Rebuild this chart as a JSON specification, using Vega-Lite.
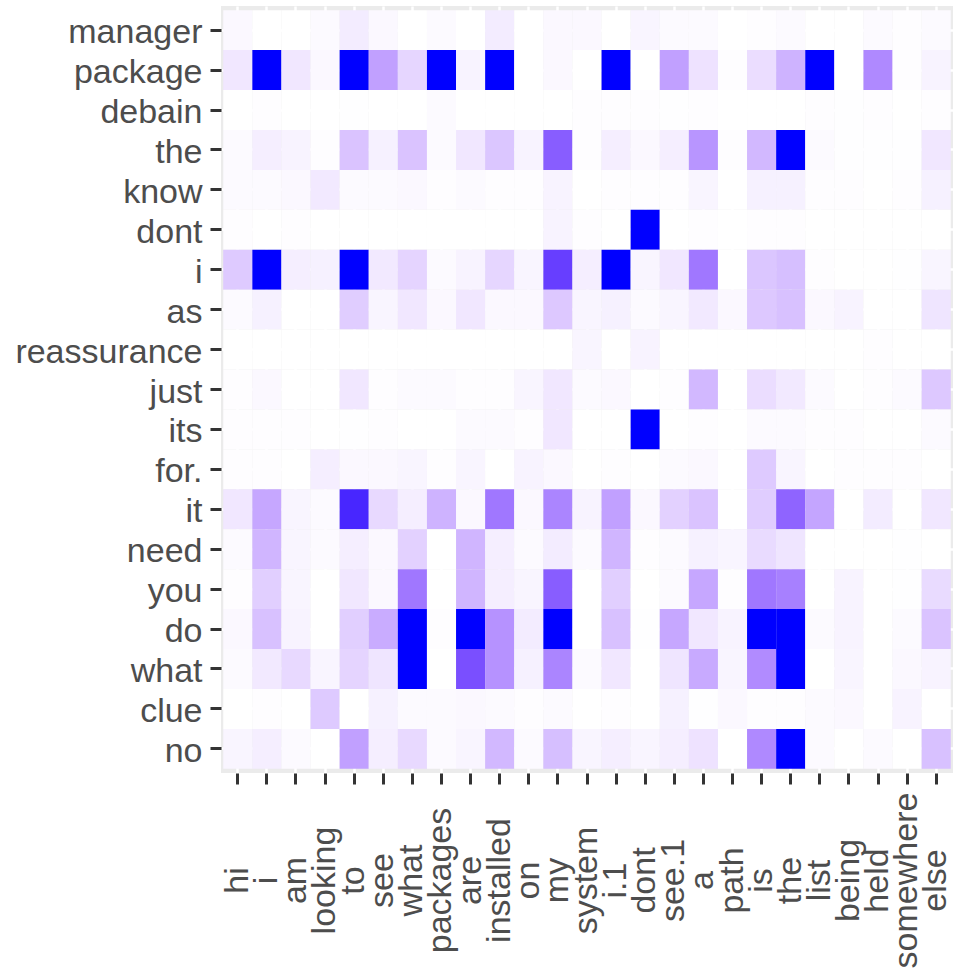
{
  "$schema": "https://vega.github.io/schema/vega-lite/v6.json",
  "autosize": {"type": "none"},
  "padding": {"left": 221, "top": 6, "right": 0, "bottom": 199},
  "width": 732,
  "height": 767,
  "background": "#FFFFFF",
  "config": {
    "view": {"fill": "#EBEBEB", "stroke": null},
    "axis": {
      "title": null,
      "domain": false,
      "grid": true,
      "gridColor": "#FFFFFF",
      "gridWidth": 2.5,
      "bandPosition": 0.5,
      "ticks": true,
      "tickColor": "#333333",
      "tickSize": 11,
      "tickWidth": 3,
      "labelFont": "Liberation Sans",
      "labelFontSize": 34,
      "labelColor": "#4D4D4D",
      "labelLimit": 0,
      "labelOverlap": false,
      "labelBound": false,
      "labelFlush": false,
      "zindex": 0
    }
  },
  "data": {
    "values": [
      {"src":"hi","tgt":"manager","weight":0.03},{"src":"i","tgt":"manager","weight":0},{"src":"am","tgt":"manager","weight":0},{"src":"looking","tgt":"manager","weight":0.02},{"src":"to","tgt":"manager","weight":0.08},{"src":"see","tgt":"manager","weight":0.03},{"src":"what","tgt":"manager","weight":0},{"src":"packages","tgt":"manager","weight":0.02},{"src":"are","tgt":"manager","weight":0},{"src":"installed","tgt":"manager","weight":0.08},{"src":"on","tgt":"manager","weight":0},{"src":"my","tgt":"manager","weight":0.03},{"src":"system","tgt":"manager","weight":0.03},{"src":"i.1","tgt":"manager","weight":0},{"src":"dont","tgt":"manager","weight":0.04},{"src":"see.1","tgt":"manager","weight":0.02},{"src":"a","tgt":"manager","weight":0.02},{"src":"path","tgt":"manager","weight":0},{"src":"is","tgt":"manager","weight":0.01},{"src":"the","tgt":"manager","weight":0.02},{"src":"list","tgt":"manager","weight":0},{"src":"being","tgt":"manager","weight":0},{"src":"held","tgt":"manager","weight":0.02},{"src":"somewhere","tgt":"manager","weight":0.01},{"src":"else","tgt":"manager","weight":0.02},
      {"src":"hi","tgt":"package","weight":0.1},{"src":"i","tgt":"package","weight":1},{"src":"am","tgt":"package","weight":0.1},{"src":"looking","tgt":"package","weight":0.03},{"src":"to","tgt":"package","weight":1},{"src":"see","tgt":"package","weight":0.4},{"src":"what","tgt":"package","weight":0.17},{"src":"packages","tgt":"package","weight":1},{"src":"are","tgt":"package","weight":0.05},{"src":"installed","tgt":"package","weight":1},{"src":"on","tgt":"package","weight":0},{"src":"my","tgt":"package","weight":0.03},{"src":"system","tgt":"package","weight":0},{"src":"i.1","tgt":"package","weight":1},{"src":"dont","tgt":"package","weight":0},{"src":"see.1","tgt":"package","weight":0.4},{"src":"a","tgt":"package","weight":0.12},{"src":"path","tgt":"package","weight":0.01},{"src":"is","tgt":"package","weight":0.14},{"src":"the","tgt":"package","weight":0.32},{"src":"list","tgt":"package","weight":1},{"src":"being","tgt":"package","weight":0},{"src":"held","tgt":"package","weight":0.5},{"src":"somewhere","tgt":"package","weight":0.01},{"src":"else","tgt":"package","weight":0.05},
      {"src":"hi","tgt":"debain","weight":0},{"src":"i","tgt":"debain","weight":0.01},{"src":"am","tgt":"debain","weight":0},{"src":"looking","tgt":"debain","weight":0},{"src":"to","tgt":"debain","weight":0.005},{"src":"see","tgt":"debain","weight":0},{"src":"what","tgt":"debain","weight":0},{"src":"packages","tgt":"debain","weight":0.02},{"src":"are","tgt":"debain","weight":0},{"src":"installed","tgt":"debain","weight":0},{"src":"on","tgt":"debain","weight":0},{"src":"my","tgt":"debain","weight":0},{"src":"system","tgt":"debain","weight":0.01},{"src":"i.1","tgt":"debain","weight":0.01},{"src":"dont","tgt":"debain","weight":0.01},{"src":"see.1","tgt":"debain","weight":0.005},{"src":"a","tgt":"debain","weight":0.01},{"src":"path","tgt":"debain","weight":0},{"src":"is","tgt":"debain","weight":0},{"src":"the","tgt":"debain","weight":0},{"src":"list","tgt":"debain","weight":0.01},{"src":"being","tgt":"debain","weight":0.005},{"src":"held","tgt":"debain","weight":0.01},{"src":"somewhere","tgt":"debain","weight":0},{"src":"else","tgt":"debain","weight":0.01},
      {"src":"hi","tgt":"the","weight":0.02},{"src":"i","tgt":"the","weight":0.07},{"src":"am","tgt":"the","weight":0.05},{"src":"looking","tgt":"the","weight":0.01},{"src":"to","tgt":"the","weight":0.25},{"src":"see","tgt":"the","weight":0.06},{"src":"what","tgt":"the","weight":0.25},{"src":"packages","tgt":"the","weight":0.02},{"src":"are","tgt":"the","weight":0.1},{"src":"installed","tgt":"the","weight":0.24},{"src":"on","tgt":"the","weight":0.05},{"src":"my","tgt":"the","weight":0.69},{"src":"system","tgt":"the","weight":0.01},{"src":"i.1","tgt":"the","weight":0.07},{"src":"dont","tgt":"the","weight":0.03},{"src":"see.1","tgt":"the","weight":0.07},{"src":"a","tgt":"the","weight":0.45},{"src":"path","tgt":"the","weight":0.01},{"src":"is","tgt":"the","weight":0.3},{"src":"the","tgt":"the","weight":1},{"src":"list","tgt":"the","weight":0.02},{"src":"being","tgt":"the","weight":0.005},{"src":"held","tgt":"the","weight":0.005},{"src":"somewhere","tgt":"the","weight":0.005},{"src":"else","tgt":"the","weight":0.1},
      {"src":"hi","tgt":"know","weight":0.02},{"src":"i","tgt":"know","weight":0.02},{"src":"am","tgt":"know","weight":0.03},{"src":"looking","tgt":"know","weight":0.09},{"src":"to","tgt":"know","weight":0.02},{"src":"see","tgt":"know","weight":0.02},{"src":"what","tgt":"know","weight":0.03},{"src":"packages","tgt":"know","weight":0.01},{"src":"are","tgt":"know","weight":0.02},{"src":"installed","tgt":"know","weight":0.01},{"src":"on","tgt":"know","weight":0.01},{"src":"my","tgt":"know","weight":0.05},{"src":"system","tgt":"know","weight":0},{"src":"i.1","tgt":"know","weight":0.01},{"src":"dont","tgt":"know","weight":0.01},{"src":"see.1","tgt":"know","weight":0.01},{"src":"a","tgt":"know","weight":0.04},{"src":"path","tgt":"know","weight":0},{"src":"is","tgt":"know","weight":0.06},{"src":"the","tgt":"know","weight":0.06},{"src":"list","tgt":"know","weight":0.01},{"src":"being","tgt":"know","weight":0.01},{"src":"held","tgt":"know","weight":0},{"src":"somewhere","tgt":"know","weight":0.01},{"src":"else","tgt":"know","weight":0.06},
      {"src":"hi","tgt":"dont","weight":0.01},{"src":"i","tgt":"dont","weight":0},{"src":"am","tgt":"dont","weight":0.01},{"src":"looking","tgt":"dont","weight":0},{"src":"to","tgt":"dont","weight":0},{"src":"see","tgt":"dont","weight":0},{"src":"what","tgt":"dont","weight":0},{"src":"packages","tgt":"dont","weight":0},{"src":"are","tgt":"dont","weight":0},{"src":"installed","tgt":"dont","weight":0},{"src":"on","tgt":"dont","weight":0},{"src":"my","tgt":"dont","weight":0.05},{"src":"system","tgt":"dont","weight":0.01},{"src":"i.1","tgt":"dont","weight":0},{"src":"dont","tgt":"dont","weight":1},{"src":"see.1","tgt":"dont","weight":0},{"src":"a","tgt":"dont","weight":0.01},{"src":"path","tgt":"dont","weight":0},{"src":"is","tgt":"dont","weight":0.01},{"src":"the","tgt":"dont","weight":0.01},{"src":"list","tgt":"dont","weight":0},{"src":"being","tgt":"dont","weight":0},{"src":"held","tgt":"dont","weight":0},{"src":"somewhere","tgt":"dont","weight":0},{"src":"else","tgt":"dont","weight":0},
      {"src":"hi","tgt":"i","weight":0.22},{"src":"i","tgt":"i","weight":1},{"src":"am","tgt":"i","weight":0.07},{"src":"looking","tgt":"i","weight":0.06},{"src":"to","tgt":"i","weight":1},{"src":"see","tgt":"i","weight":0.09},{"src":"what","tgt":"i","weight":0.18},{"src":"packages","tgt":"i","weight":0.02},{"src":"are","tgt":"i","weight":0.05},{"src":"installed","tgt":"i","weight":0.17},{"src":"on","tgt":"i","weight":0.04},{"src":"my","tgt":"i","weight":0.82},{"src":"system","tgt":"i","weight":0.07},{"src":"i.1","tgt":"i","weight":1},{"src":"dont","tgt":"i","weight":0.04},{"src":"see.1","tgt":"i","weight":0.1},{"src":"a","tgt":"i","weight":0.58},{"src":"path","tgt":"i","weight":0},{"src":"is","tgt":"i","weight":0.24},{"src":"the","tgt":"i","weight":0.27},{"src":"list","tgt":"i","weight":0.01},{"src":"being","tgt":"i","weight":0},{"src":"held","tgt":"i","weight":0},{"src":"somewhere","tgt":"i","weight":0.005},{"src":"else","tgt":"i","weight":0.04},
      {"src":"hi","tgt":"as","weight":0.02},{"src":"i","tgt":"as","weight":0.06},{"src":"am","tgt":"as","weight":0},{"src":"looking","tgt":"as","weight":0},{"src":"to","tgt":"as","weight":0.21},{"src":"see","tgt":"as","weight":0.04},{"src":"what","tgt":"as","weight":0.1},{"src":"packages","tgt":"as","weight":0.03},{"src":"are","tgt":"as","weight":0.1},{"src":"installed","tgt":"as","weight":0.03},{"src":"on","tgt":"as","weight":0.03},{"src":"my","tgt":"as","weight":0.23},{"src":"system","tgt":"as","weight":0.04},{"src":"i.1","tgt":"as","weight":0.06},{"src":"dont","tgt":"as","weight":0.02},{"src":"see.1","tgt":"as","weight":0.04},{"src":"a","tgt":"as","weight":0.09},{"src":"path","tgt":"as","weight":0.03},{"src":"is","tgt":"as","weight":0.23},{"src":"the","tgt":"as","weight":0.26},{"src":"list","tgt":"as","weight":0.03},{"src":"being","tgt":"as","weight":0.05},{"src":"held","tgt":"as","weight":0},{"src":"somewhere","tgt":"as","weight":0},{"src":"else","tgt":"as","weight":0.11},
      {"src":"hi","tgt":"reassurance","weight":0},{"src":"i","tgt":"reassurance","weight":0},{"src":"am","tgt":"reassurance","weight":0},{"src":"looking","tgt":"reassurance","weight":0},{"src":"to","tgt":"reassurance","weight":0},{"src":"see","tgt":"reassurance","weight":0},{"src":"what","tgt":"reassurance","weight":0},{"src":"packages","tgt":"reassurance","weight":0},{"src":"are","tgt":"reassurance","weight":0},{"src":"installed","tgt":"reassurance","weight":0},{"src":"on","tgt":"reassurance","weight":0},{"src":"my","tgt":"reassurance","weight":0},{"src":"system","tgt":"reassurance","weight":0.04},{"src":"i.1","tgt":"reassurance","weight":0},{"src":"dont","tgt":"reassurance","weight":0.05},{"src":"see.1","tgt":"reassurance","weight":0},{"src":"a","tgt":"reassurance","weight":0},{"src":"path","tgt":"reassurance","weight":0},{"src":"is","tgt":"reassurance","weight":0},{"src":"the","tgt":"reassurance","weight":0},{"src":"list","tgt":"reassurance","weight":0},{"src":"being","tgt":"reassurance","weight":0},{"src":"held","tgt":"reassurance","weight":0.01},{"src":"somewhere","tgt":"reassurance","weight":0},{"src":"else","tgt":"reassurance","weight":0},
      {"src":"hi","tgt":"just","weight":0.01},{"src":"i","tgt":"just","weight":0.03},{"src":"am","tgt":"just","weight":0},{"src":"looking","tgt":"just","weight":0},{"src":"to","tgt":"just","weight":0.1},{"src":"see","tgt":"just","weight":0.01},{"src":"what","tgt":"just","weight":0.02},{"src":"packages","tgt":"just","weight":0.02},{"src":"are","tgt":"just","weight":0.01},{"src":"installed","tgt":"just","weight":0.01},{"src":"on","tgt":"just","weight":0.04},{"src":"my","tgt":"just","weight":0.1},{"src":"system","tgt":"just","weight":0.02},{"src":"i.1","tgt":"just","weight":0.03},{"src":"dont","tgt":"just","weight":0},{"src":"see.1","tgt":"just","weight":0.01},{"src":"a","tgt":"just","weight":0.3},{"src":"path","tgt":"just","weight":0},{"src":"is","tgt":"just","weight":0.14},{"src":"the","tgt":"just","weight":0.09},{"src":"list","tgt":"just","weight":0.02},{"src":"being","tgt":"just","weight":0},{"src":"held","tgt":"just","weight":0.01},{"src":"somewhere","tgt":"just","weight":0.02},{"src":"else","tgt":"just","weight":0.23},
      {"src":"hi","tgt":"its","weight":0.01},{"src":"i","tgt":"its","weight":0.01},{"src":"am","tgt":"its","weight":0.01},{"src":"looking","tgt":"its","weight":0},{"src":"to","tgt":"its","weight":0.005},{"src":"see","tgt":"its","weight":0.01},{"src":"what","tgt":"its","weight":0},{"src":"packages","tgt":"its","weight":0},{"src":"are","tgt":"its","weight":0.02},{"src":"installed","tgt":"its","weight":0.02},{"src":"on","tgt":"its","weight":0.01},{"src":"my","tgt":"its","weight":0.1},{"src":"system","tgt":"its","weight":0},{"src":"i.1","tgt":"its","weight":0},{"src":"dont","tgt":"its","weight":1},{"src":"see.1","tgt":"its","weight":0},{"src":"a","tgt":"its","weight":0.01},{"src":"path","tgt":"its","weight":0},{"src":"is","tgt":"its","weight":0.02},{"src":"the","tgt":"its","weight":0.02},{"src":"list","tgt":"its","weight":0.01},{"src":"being","tgt":"its","weight":0.01},{"src":"held","tgt":"its","weight":0},{"src":"somewhere","tgt":"its","weight":0},{"src":"else","tgt":"its","weight":0.02},
      {"src":"hi","tgt":"for.","weight":0.01},{"src":"i","tgt":"for.","weight":0.01},{"src":"am","tgt":"for.","weight":0},{"src":"looking","tgt":"for.","weight":0.07},{"src":"to","tgt":"for.","weight":0.03},{"src":"see","tgt":"for.","weight":0.03},{"src":"what","tgt":"for.","weight":0.04},{"src":"packages","tgt":"for.","weight":0.01},{"src":"are","tgt":"for.","weight":0.04},{"src":"installed","tgt":"for.","weight":0},{"src":"on","tgt":"for.","weight":0.05},{"src":"my","tgt":"for.","weight":0.03},{"src":"system","tgt":"for.","weight":0},{"src":"i.1","tgt":"for.","weight":0.01},{"src":"dont","tgt":"for.","weight":0},{"src":"see.1","tgt":"for.","weight":0.02},{"src":"a","tgt":"for.","weight":0.03},{"src":"path","tgt":"for.","weight":0},{"src":"is","tgt":"for.","weight":0.22},{"src":"the","tgt":"for.","weight":0.04},{"src":"list","tgt":"for.","weight":0},{"src":"being","tgt":"for.","weight":0.01},{"src":"held","tgt":"for.","weight":0.01},{"src":"somewhere","tgt":"for.","weight":0.01},{"src":"else","tgt":"for.","weight":0},
      {"src":"hi","tgt":"it","weight":0.1},{"src":"i","tgt":"it","weight":0.37},{"src":"am","tgt":"it","weight":0.04},{"src":"looking","tgt":"it","weight":0.02},{"src":"to","tgt":"it","weight":0.91},{"src":"see","tgt":"it","weight":0.16},{"src":"what","tgt":"it","weight":0.07},{"src":"packages","tgt":"it","weight":0.32},{"src":"are","tgt":"it","weight":0.03},{"src":"installed","tgt":"it","weight":0.58},{"src":"on","tgt":"it","weight":0.03},{"src":"my","tgt":"it","weight":0.52},{"src":"system","tgt":"it","weight":0.05},{"src":"i.1","tgt":"it","weight":0.4},{"src":"dont","tgt":"it","weight":0.03},{"src":"see.1","tgt":"it","weight":0.19},{"src":"a","tgt":"it","weight":0.25},{"src":"path","tgt":"it","weight":0},{"src":"is","tgt":"it","weight":0.21},{"src":"the","tgt":"it","weight":0.66},{"src":"list","tgt":"it","weight":0.38},{"src":"being","tgt":"it","weight":0},{"src":"held","tgt":"it","weight":0.08},{"src":"somewhere","tgt":"it","weight":0},{"src":"else","tgt":"it","weight":0.1},
      {"src":"hi","tgt":"need","weight":0.02},{"src":"i","tgt":"need","weight":0.31},{"src":"am","tgt":"need","weight":0.04},{"src":"looking","tgt":"need","weight":0.02},{"src":"to","tgt":"need","weight":0.07},{"src":"see","tgt":"need","weight":0.03},{"src":"what","tgt":"need","weight":0.19},{"src":"packages","tgt":"need","weight":0},{"src":"are","tgt":"need","weight":0.31},{"src":"installed","tgt":"need","weight":0.07},{"src":"on","tgt":"need","weight":0.02},{"src":"my","tgt":"need","weight":0.08},{"src":"system","tgt":"need","weight":0.02},{"src":"i.1","tgt":"need","weight":0.31},{"src":"dont","tgt":"need","weight":0.01},{"src":"see.1","tgt":"need","weight":0.02},{"src":"a","tgt":"need","weight":0.06},{"src":"path","tgt":"need","weight":0.04},{"src":"is","tgt":"need","weight":0.15},{"src":"the","tgt":"need","weight":0.11},{"src":"list","tgt":"need","weight":0},{"src":"being","tgt":"need","weight":0},{"src":"held","tgt":"need","weight":0},{"src":"somewhere","tgt":"need","weight":0.005},{"src":"else","tgt":"need","weight":0},
      {"src":"hi","tgt":"you","weight":0.01},{"src":"i","tgt":"you","weight":0.2},{"src":"am","tgt":"you","weight":0.04},{"src":"looking","tgt":"you","weight":0},{"src":"to","tgt":"you","weight":0.1},{"src":"see","tgt":"you","weight":0.03},{"src":"what","tgt":"you","weight":0.58},{"src":"packages","tgt":"you","weight":0},{"src":"are","tgt":"you","weight":0.31},{"src":"installed","tgt":"you","weight":0.07},{"src":"on","tgt":"you","weight":0.04},{"src":"my","tgt":"you","weight":0.69},{"src":"system","tgt":"you","weight":0},{"src":"i.1","tgt":"you","weight":0.2},{"src":"dont","tgt":"you","weight":0},{"src":"see.1","tgt":"you","weight":0.02},{"src":"a","tgt":"you","weight":0.37},{"src":"path","tgt":"you","weight":0.01},{"src":"is","tgt":"you","weight":0.58},{"src":"the","tgt":"you","weight":0.54},{"src":"list","tgt":"you","weight":0},{"src":"being","tgt":"you","weight":0.05},{"src":"held","tgt":"you","weight":0},{"src":"somewhere","tgt":"you","weight":0.005},{"src":"else","tgt":"you","weight":0.15},
      {"src":"hi","tgt":"do","weight":0.03},{"src":"i","tgt":"do","weight":0.26},{"src":"am","tgt":"do","weight":0.05},{"src":"looking","tgt":"do","weight":0},{"src":"to","tgt":"do","weight":0.2},{"src":"see","tgt":"do","weight":0.35},{"src":"what","tgt":"do","weight":1},{"src":"packages","tgt":"do","weight":0.01},{"src":"are","tgt":"do","weight":1},{"src":"installed","tgt":"do","weight":0.46},{"src":"on","tgt":"do","weight":0.08},{"src":"my","tgt":"do","weight":1},{"src":"system","tgt":"do","weight":0},{"src":"i.1","tgt":"do","weight":0.26},{"src":"dont","tgt":"do","weight":0.005},{"src":"see.1","tgt":"do","weight":0.37},{"src":"a","tgt":"do","weight":0.1},{"src":"path","tgt":"do","weight":0.05},{"src":"is","tgt":"do","weight":1},{"src":"the","tgt":"do","weight":1},{"src":"list","tgt":"do","weight":0.02},{"src":"being","tgt":"do","weight":0.05},{"src":"held","tgt":"do","weight":0},{"src":"somewhere","tgt":"do","weight":0.02},{"src":"else","tgt":"do","weight":0.25},
      {"src":"hi","tgt":"what","weight":0.02},{"src":"i","tgt":"what","weight":0.09},{"src":"am","tgt":"what","weight":0.16},{"src":"looking","tgt":"what","weight":0.04},{"src":"to","tgt":"what","weight":0.18},{"src":"see","tgt":"what","weight":0.11},{"src":"what","tgt":"what","weight":1},{"src":"packages","tgt":"what","weight":0},{"src":"are","tgt":"what","weight":0.75},{"src":"installed","tgt":"what","weight":0.46},{"src":"on","tgt":"what","weight":0.06},{"src":"my","tgt":"what","weight":0.52},{"src":"system","tgt":"what","weight":0.02},{"src":"i.1","tgt":"what","weight":0.1},{"src":"dont","tgt":"what","weight":0},{"src":"see.1","tgt":"what","weight":0.11},{"src":"a","tgt":"what","weight":0.36},{"src":"path","tgt":"what","weight":0.04},{"src":"is","tgt":"what","weight":0.49},{"src":"the","tgt":"what","weight":1},{"src":"list","tgt":"what","weight":0},{"src":"being","tgt":"what","weight":0.04},{"src":"held","tgt":"what","weight":0},{"src":"somewhere","tgt":"what","weight":0.03},{"src":"else","tgt":"what","weight":0.05},
      {"src":"hi","tgt":"clue","weight":0},{"src":"i","tgt":"clue","weight":0.01},{"src":"am","tgt":"clue","weight":0},{"src":"looking","tgt":"clue","weight":0.22},{"src":"to","tgt":"clue","weight":0},{"src":"see","tgt":"clue","weight":0.06},{"src":"what","tgt":"clue","weight":0.02},{"src":"packages","tgt":"clue","weight":0.02},{"src":"are","tgt":"clue","weight":0.03},{"src":"installed","tgt":"clue","weight":0.02},{"src":"on","tgt":"clue","weight":0.01},{"src":"my","tgt":"clue","weight":0.02},{"src":"system","tgt":"clue","weight":0},{"src":"i.1","tgt":"clue","weight":0.01},{"src":"dont","tgt":"clue","weight":0},{"src":"see.1","tgt":"clue","weight":0.06},{"src":"a","tgt":"clue","weight":0.005},{"src":"path","tgt":"clue","weight":0.03},{"src":"is","tgt":"clue","weight":0.01},{"src":"the","tgt":"clue","weight":0.01},{"src":"list","tgt":"clue","weight":0.02},{"src":"being","tgt":"clue","weight":0.03},{"src":"held","tgt":"clue","weight":0},{"src":"somewhere","tgt":"clue","weight":0.05},{"src":"else","tgt":"clue","weight":0},
      {"src":"hi","tgt":"no","weight":0.04},{"src":"i","tgt":"no","weight":0.07},{"src":"am","tgt":"no","weight":0.02},{"src":"looking","tgt":"no","weight":0},{"src":"to","tgt":"no","weight":0.4},{"src":"see","tgt":"no","weight":0.07},{"src":"what","tgt":"no","weight":0.16},{"src":"packages","tgt":"no","weight":0.02},{"src":"are","tgt":"no","weight":0.04},{"src":"installed","tgt":"no","weight":0.3},{"src":"on","tgt":"no","weight":0.02},{"src":"my","tgt":"no","weight":0.27},{"src":"system","tgt":"no","weight":0.04},{"src":"i.1","tgt":"no","weight":0.07},{"src":"dont","tgt":"no","weight":0.04},{"src":"see.1","tgt":"no","weight":0.07},{"src":"a","tgt":"no","weight":0.12},{"src":"path","tgt":"no","weight":0},{"src":"is","tgt":"no","weight":0.5},{"src":"the","tgt":"no","weight":1},{"src":"list","tgt":"no","weight":0.02},{"src":"being","tgt":"no","weight":0},{"src":"held","tgt":"no","weight":0.02},{"src":"somewhere","tgt":"no","weight":0},{"src":"else","tgt":"no","weight":0.26}
    ]
  },
  "mark": {"type": "rect", "opacity": 1, "strokeWidth": 0},
  "encoding": {
    "x": {
      "field": "src",
      "type": "nominal",
      "sort": ["hi","i","am","looking","to","see","what","packages","are","installed","on","my","system","i.1","dont","see.1","a","path","is","the","list","being","held","somewhere","else"],
      "scale": {"paddingInner": 0, "paddingOuter": 0.077},
      "axis": {
        "orient": "bottom",
        "labelAngle": 270,
        "labelAlign": "center",
        "labelBaseline": "middle",
        "labelPadding": 96
      }
    },
    "y": {
      "field": "tgt",
      "type": "nominal",
      "sort": ["manager","package","debain","the","know","dont","i","as","reassurance","just","its","for.","it","need","you","do","what","clue","no"],
      "scale": {"paddingInner": 0, "paddingOuter": 0.105},
      "axis": {
        "orient": "left",
        "labelPadding": 8,
        "labelOffset": 3
      }
    },
    "color": {
      "field": "weight",
      "type": "quantitative",
      "scale": {"domain": [0, 1], "range": ["#FFFFFF", "#0000FF"], "interpolate": "lab"},
      "legend": null
    }
  }
}
